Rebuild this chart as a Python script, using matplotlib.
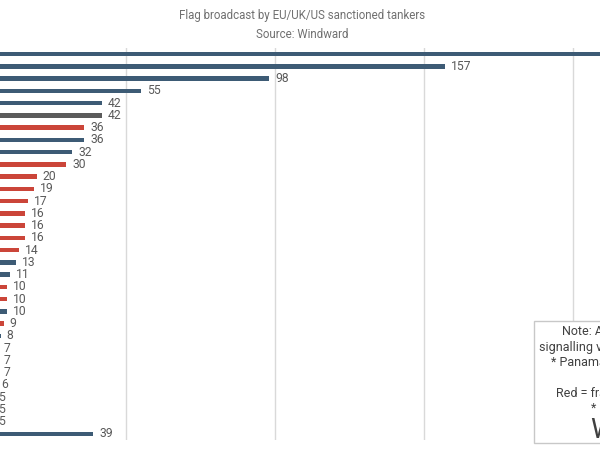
import matplotlib
matplotlib.use("Agg")
import matplotlib.pyplot as plt

# bar values, top to bottom (the chart is cropped, flag names sit off-canvas)
values = [240, 157, 98, 55, 42, 42, 36, 36, 32, 30, 20, 19, 17, 16, 16, 16,
          14, 13, 11, 10, 10, 10, 9, 8, 7, 7, 7, 6, 5, 5, 5, 39]
groups = ["b", "b", "b", "b", "b", "g", "r", "b", "b", "r", "r", "r", "r", "r",
          "r", "r", "r", "b", "b", "r", "r", "b", "r", "b", "b", "r", "b", "r",
          "b", "r", "b", "b"]
grid_ticks = [50, 100, 150, 200, 250]

title = "Flag broadcast by EU/UK/US sanctioned tankers\nSource: Windward"
note_lines = [
    "Note: AIS flag is what a vessel is",
    "signalling via its AIS transponder system",
    "* Panama has de-flagged all vessels",
    "",
    "Red = fraudulent or false registries",
    "* = suspected registry",
]

palette = {"b": "#3d5b75", "r": "#cb4539", "g": "#5b5b5b"}
plt.rcParams["font.family"] = ["Roboto", "DejaVu Sans"]

W, H = 600, 450
fig = plt.figure(figsize=(6, 4.5), dpi=100)

# axes extend past the left/right canvas edges, like the cropped original
px_per_unit = 2.98
x0_px = -23
xmax = 250
ax = fig.add_axes([x0_px / W, 10 / H, xmax * px_per_unit / W, 392 / H])

n = len(values)
ys = list(range(n))
ax.barh(ys, values, height=0.38, color=[palette[g] for g in groups], zorder=3)
for y, v in zip(ys, values):
    ax.annotate(str(v), (v, y), xytext=(6, 0), textcoords="offset pixels",
                ha="left", va="center", fontsize=8.7, color="#595959")

ax.set_xlim(0, xmax)
ax.set_ylim(n - 0.5, -0.5)
ax.set_xticks(grid_ticks)
ax.xaxis.grid(True, color="#d9d9d9", linewidth=1)
ax.tick_params(left=False, bottom=False, labelleft=False, labelbottom=False)
for s in ax.spines.values():
    s.set_visible(False)

fig.text(0.503, 1 - 25 / H, title, ha="center", va="center", fontsize=8.3,
         color="#707070", linespacing=1.7)

# note box, mostly cut off on the right
box_l, box_t, box_b = 534, 321, 443
box_cx = 652
fig.patches.append(plt.Rectangle((box_l / W, 1 - box_b / H), 300 / W,
                                 (box_b - box_t) / H, transform=fig.transFigure,
                                 facecolor="white", edgecolor="#c8c8c8",
                                 linewidth=1, zorder=5))
for i, line in enumerate(note_lines):
    if line:
        fig.text(box_cx / W, 1 - (332 + 15.3 * i) / H, line, ha="center",
                 va="center", fontsize=9, color="#404040", zorder=6)
fig.text(box_cx / W, 1 - 430 / H, "Windward", ha="center", va="center",
         fontsize=20, color="#404040", zorder=6)

fig.savefig("out.png", dpi=100)
